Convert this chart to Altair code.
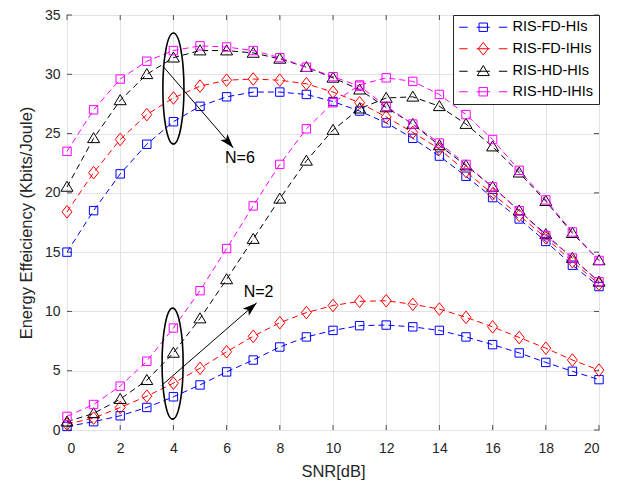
import math
import altair as alt
import pandas as pd

# ---------------- data ----------------
snr = list(range(21))
series_names = ["RIS-FD-HIs", "RIS-FD-IHIs", "RIS-HD-HIs", "RIS-HD-IHIs"]
series_colors = ["#0000FF", "#FF0000", "#000000", "#FF00FF"]

# N = 6
fd_his_n6 = [15.0, 18.5, 21.6, 24.1, 26.0, 27.3, 28.1, 28.5, 28.5, 28.3, 27.7,
             26.9, 25.9, 24.6, 23.1, 21.4, 19.6, 17.8, 15.9, 13.9, 12.1]
fd_ihis_n6 = [18.4, 21.7, 24.5, 26.6, 28.0, 29.0, 29.5, 29.6, 29.5, 29.2, 28.5,
              27.6, 26.4, 25.1, 23.7, 21.8, 19.9, 18.1, 16.2, 14.2, 12.3]
hd_his_n6 = [20.5, 24.6, 27.8, 30.0, 31.4, 32.0, 32.0, 31.8, 31.3, 30.6, 29.7,
             28.7, 27.2, 25.8, 24.0, 22.3, 20.5, 18.5, 16.5, 14.5, 12.5]
hd_ihis_n6 = [23.5, 27.0, 29.6, 31.1, 32.0, 32.4, 32.3, 32.0, 31.4, 30.6, 29.8,
              29.0, 27.3, 25.8, 24.2, 22.4, 20.5, 18.5, 16.4, 14.5, 12.5]

# N = 2
fd_his_n2 = [0.3, 0.7, 1.2, 1.9, 2.8, 3.8, 4.9, 5.9, 7.0, 7.85, 8.4,
             8.8, 8.85, 8.7, 8.4, 7.85, 7.2, 6.5, 5.7, 4.95, 4.25]
fd_ihis_n2 = [0.5, 1.0, 1.9, 2.85, 3.95, 5.2, 6.6, 7.9, 9.05, 9.9, 10.5,
              10.85, 10.9, 10.6, 10.2, 9.5, 8.7, 7.8, 6.9, 5.9, 5.05]
hd_his_n2 = [0.7, 1.4, 2.6, 4.2, 6.5, 9.4, 12.7, 16.1, 19.5, 22.7, 25.3,
             27.1, 28.0, 28.1, 27.3, 25.8, 23.9, 21.7, 19.3, 16.6, 14.3]
hd_ihis_n2 = [1.15, 2.15, 3.7, 5.8, 8.6, 11.75, 15.3, 18.9, 22.4, 25.4, 27.6,
              29.1, 29.7, 29.4, 28.3, 26.6, 24.5, 21.9, 19.4, 16.7, 14.3]

x_ticks = list(range(0, 21, 2))
y_ticks = list(range(0, 36, 5))

# annotations
ellipse_x = [4.0, 3.97]
ellipse_y = [28.8, 5.6]
arrow_x = [3.6, 3.56]
arrow_y = [30.7, 3.76]
arrow_x2 = [6.25, 7.13]
arrow_y2 = [23.8, 10.72]
label_text = ["N=6", "N=2"]
label_x = [6.5, 7.2]
label_y = [22.9, 11.6]

# ---------------- layout ----------------
W, H = 532, 415
X_MAX, Y_MAX = 20, 35
FONT = "Liberation Sans"
AX = "#262626"

rows = []
for n, group in [(6, [fd_his_n6, fd_ihis_n6, hd_his_n6, hd_ihis_n6]),
                 (2, [fd_his_n2, fd_ihis_n2, hd_his_n2, hd_ihis_n2])]:
    for name, vals in zip(series_names, group):
        for s, v in zip(snr, vals):
            rows.append({"snr": s, "ee": v, "series": name, "curve": f"{name} N={n}"})
df = pd.DataFrame(rows)

x_enc = alt.X("snr:Q", scale=alt.Scale(domain=[0, X_MAX], nice=False),
              axis=alt.Axis(values=x_ticks, title="SNR[dB]"))
y_enc = alt.Y("ee:Q", scale=alt.Scale(domain=[0, Y_MAX], nice=False),
              axis=alt.Axis(values=y_ticks, title="Energy Effeiciency (Kbits/Joule)"))

# marker shapes
SQ = "M-0.7,-0.7L0.7,-0.7L0.7,0.7L-0.7,0.7Z"
DI = "M0,-1.05L0.83,0L0,1.05L-0.83,0Z"
TR = "M0,-0.95L1,0.72L-1,0.72Z"
marker_paths = [SQ, DI, TR, SQ]
# legend symbols: dashed line with marker in the middle
LP = "M-1,0L0.4,0M1.9,0L4.1,0M5.6,0L7,0"
SQ_L = LP + "M2.3,-0.7L3.7,-0.7L3.7,0.7L2.3,0.7Z"
DI_L = LP + "M3,-1.05L3.83,0L3,1.05L2.17,0Z"
TR_L = LP + "M3,-0.95L4,0.72L2,0.72Z"
legend_paths = [SQ_L, DI_L, TR_L, SQ_L]

series_layers = []
for i, (name, col, path) in enumerate(zip(series_names, series_colors, marker_paths)):
    base = alt.Chart(df).transform_filter(alt.datum.series == name)
    ln = base.mark_line(strokeDash=[6, 4], strokeWidth=1, color=col).encode(
        x=x_enc if i == 0 else alt.X("snr:Q"),
        y=y_enc if i == 0 else alt.Y("ee:Q"),
        detail="curve:N",
    )
    pt = base.mark_point(shape=path, filled=False, strokeWidth=1, size=144,
                         opacity=1, color=col).encode(x="snr:Q", y="ee:Q")
    series_layers += [ln, pt]

legend_carrier = alt.Chart(df).mark_point(filled=False, strokeWidth=1, size=144, opacity=0).encode(
    x="snr:Q", y="ee:Q",
    color=alt.Color("series:N", scale=alt.Scale(domain=series_names, range=series_colors),
                    legend=alt.Legend(title=None, orient="top-right", offset=0,
                                      fillColor="white", strokeColor=AX,
                                      padding=5, rowPadding=5.5, labelOffset=40,
                                      labelFont=FONT, labelFontSize=14.5, labelColor="#000000",
                                      symbolSize=144, symbolStrokeWidth=1, symbolOpacity=1,
                                      cornerRadius=0)),
    shape=alt.Shape("series:N", scale=alt.Scale(domain=series_names, range=legend_paths)),
)

# inward ticks on all four sides
xt = pd.DataFrame({"v": x_ticks})
yt = pd.DataFrame({"v": y_ticks})
tick_style = dict(color=AX, strokeWidth=0.8)
ticks_b = alt.Chart(xt).mark_rule(**tick_style).encode(x="v:Q", y=alt.value(H), y2=alt.value(H - 5))
ticks_t = alt.Chart(xt).mark_rule(**tick_style).encode(x="v:Q", y=alt.value(0), y2=alt.value(5))
ticks_l = alt.Chart(yt).mark_rule(**tick_style).encode(y="v:Q", x=alt.value(0), x2=alt.value(5))
ticks_r = alt.Chart(yt).mark_rule(**tick_style).encode(y="v:Q", x=alt.value(W), x2=alt.value(W - 5))

# annotations
ELL = ("M0,-1C0.105,-1 0.19,-0.552 0.19,0C0.19,0.552 0.105,1 0,1"
       "C-0.105,1 -0.19,0.552 -0.19,0C-0.19,-0.552 -0.105,-1 0,-1Z")
ell_df = pd.DataFrame({"x": ellipse_x, "y": ellipse_y})
ellipses = alt.Chart(ell_df).mark_point(shape=ELL, size=111 * 111, filled=False,
                                        color="#000000", strokeWidth=1.6, opacity=1).encode(
    x="x:Q", y="y:Q")

px_x, px_y = W / X_MAX, H / Y_MAX
angles = []
for a, b, c, d in zip(arrow_x, arrow_y, arrow_x2, arrow_y2):
    dx = (c - a) * px_x
    dy = -(d - b) * px_y
    angles.append(math.degrees(math.atan2(dx, -dy)) % 360)
arr_df = pd.DataFrame({"x": arrow_x, "y": arrow_y, "x2": arrow_x2, "y2": arrow_y2, "angle": angles})
arrow_lines = alt.Chart(arr_df).mark_rule(color="#000000", strokeWidth=1).encode(
    x="x:Q", y="y:Q", x2="x2:Q", y2="y2:Q")
HEAD = "M0,0L0.42,1.3L0,1L-0.42,1.3Z"
arrow_heads = alt.Chart(arr_df).mark_point(shape=HEAD, size=484, filled=True,
                                           color="#000000", opacity=1, strokeWidth=0.5).encode(
    x="x2:Q", y="y2:Q", angle=alt.Angle("angle:Q", scale=None))

lab_df = pd.DataFrame({"t": label_text, "x": label_x, "y": label_y})
labels = alt.Chart(lab_df).mark_text(font=FONT, fontSize=16, color="#000000",
                                     align="center", baseline="middle").encode(
    x="x:Q", y="y:Q", text="t:N")

chart = alt.layer(
    ticks_b, ticks_t, ticks_l, ticks_r,
    *series_layers, legend_carrier,
    ellipses, arrow_lines, arrow_heads, labels,
).properties(
    width=W, height=H,
    autosize=alt.AutoSizeParams(type="none"),
    padding={"left": 59, "top": 7, "right": 25, "bottom": 58},
).configure_view(
    stroke=AX, strokeWidth=1,
).configure_axis(
    grid=True, gridColor="#E3E3E3", gridWidth=1,
    domain=False, ticks=False,
    labelFont=FONT, labelFontSize=14, labelColor=AX,
    titleFont=FONT, titleFontSize=16.5, titleColor=AX, titleFontWeight="normal",
).configure_axisX(
    labelPadding=11, titlePadding=8,
).configure_axisY(
    labelPadding=7, titlePadding=10,
)

chart.save("out.html", embed_options={"renderer": "svg", "actions": False})
